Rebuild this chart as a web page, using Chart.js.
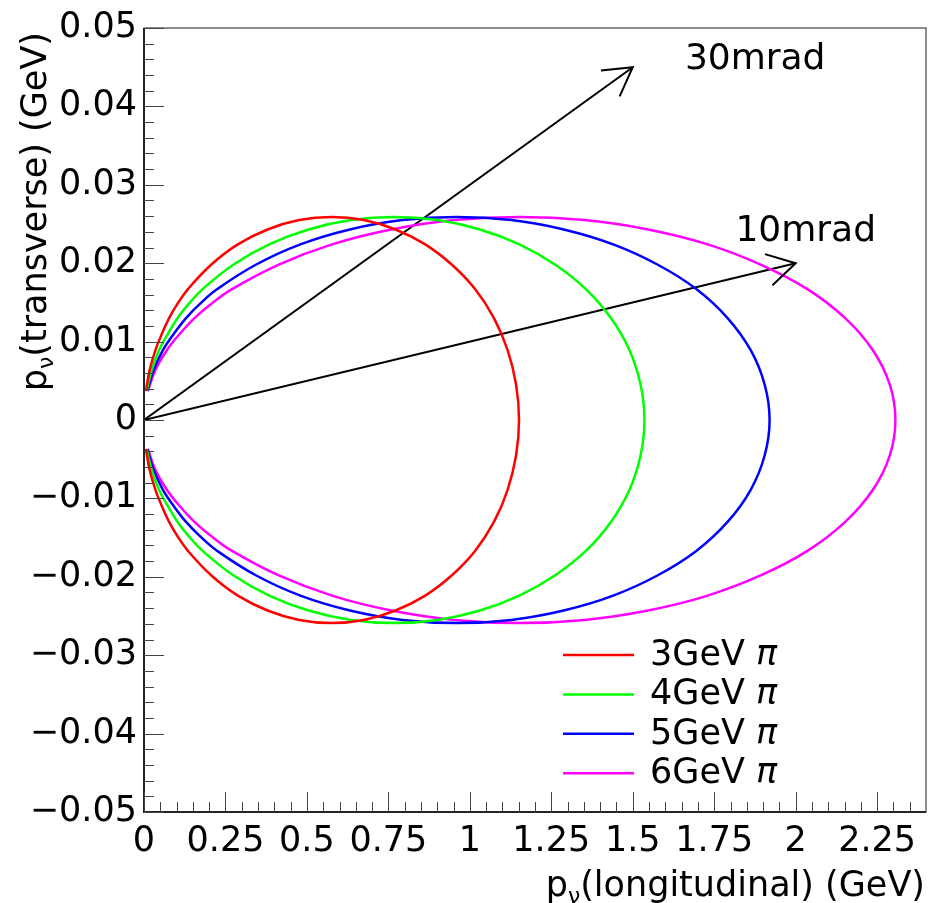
<!DOCTYPE html>
<html lang="en">
<head>
<meta charset="UTF-8" />
<title>Neutrino momentum from pion decay</title>
<script src="https://cdn.jsdelivr.net/npm/chart.js"></script>
<style>
	html, body { margin: 0; padding: 0; background: #fff; }
	canvas { display: block; }
</style>
</head>
<body>
<canvas id="ellipseChart" width="928" height="903"></canvas>
<script>
// axis tick labels
const xTicks = [0, 0.25, 0.5, 0.75, 1, 1.25, 1.5, 1.75, 2, 2.25];
const yTicks = [-0.05, -0.04, -0.03, -0.02, -0.01, 0, 0.01, 0.02, 0.03, 0.04, 0.05];

// series (one loop per pion energy)
const seriesNames = ["3GeV", "4GeV", "5GeV", "6GeV"];
const seriesColors = ["#ff0000", "#00ff00", "#0000ff", "#ff00ff"];

// transverse momentum along each loop (GeV)
const pT = [0.0037, 0.0063, 0.0089, 0.0109, 0.0130, 0.0149, 0.0167, 0.0198, 0.0224, 0.0243, 0.0255,
	0.0259, 0.0255, 0.0243, 0.0224, 0.0198, 0.0167, 0.0130, 0.0089, 0.0045, 0,
	-0.0045, -0.0089, -0.0130, -0.0167, -0.0198, -0.0224, -0.0243, -0.0255, -0.0259, -0.0255,
	-0.0243, -0.0224, -0.0198, -0.0167, -0.0149, -0.0130, -0.0109, -0.0089, -0.0063, -0.0037];

// longitudinal momentum (GeV)
const pL3 = [0.006, 0.017, 0.035, 0.054, 0.077, 0.104, 0.135, 0.206, 0.288, 0.379, 0.476,
	0.576, 0.675, 0.772, 0.863, 0.945, 1.016, 1.074, 1.116, 1.142, 1.151,
	1.142, 1.116, 1.074, 1.016, 0.945, 0.863, 0.772, 0.675, 0.576, 0.476,
	0.379, 0.288, 0.206, 0.135, 0.104, 0.077, 0.054, 0.035, 0.017, 0.006];
const pL4 = [0.008, 0.023, 0.046, 0.072, 0.103, 0.139, 0.180, 0.274, 0.384, 0.505, 0.635,
	0.768, 0.901, 1.031, 1.152, 1.262, 1.356, 1.433, 1.490, 1.524, 1.536,
	1.524, 1.490, 1.433, 1.356, 1.262, 1.152, 1.031, 0.901, 0.768, 0.635,
	0.505, 0.384, 0.274, 0.180, 0.139, 0.103, 0.072, 0.046, 0.023, 0.008];
const pL5 = [0.010, 0.029, 0.058, 0.090, 0.129, 0.174, 0.225, 0.343, 0.480, 0.632, 0.793,
	0.960, 1.127, 1.288, 1.440, 1.577, 1.695, 1.791, 1.862, 1.905, 1.920,
	1.905, 1.862, 1.791, 1.695, 1.577, 1.440, 1.288, 1.127, 0.960, 0.793,
	0.632, 0.480, 0.343, 0.225, 0.174, 0.129, 0.090, 0.058, 0.029, 0.010];
const pL6 = [0.012, 0.034, 0.070, 0.108, 0.155, 0.209, 0.270, 0.412, 0.577, 0.759, 0.953,
	1.153, 1.353, 1.547, 1.730, 1.894, 2.036, 2.152, 2.237, 2.289, 2.306,
	2.289, 2.237, 2.152, 2.036, 1.894, 1.730, 1.547, 1.353, 1.153, 0.953,
	0.759, 0.577, 0.412, 0.270, 0.209, 0.155, 0.108, 0.070, 0.034, 0.012];

// angle arrows from the origin
const arrowNames = ["30mrad", "10mrad"];
const arrowTipX = [1.5, 2.0];
const arrowTipY = [0.045, 0.02];

const FONT = "'DejaVu Sans', 'Liberation Sans', sans-serif";
const longitudinal = [pL3, pL4, pL5, pL6];

const datasets = longitudinal.map((pL, i) => ({
	label: seriesNames[i],
	data: pL.map((x, k) => ({ x: x, y: pT[k] })),
	showLine: true,
	borderColor: seriesColors[i],
	borderWidth: 2.5,
	pointRadius: 0,
	tension: 0.4,
	fill: false,
}));
arrowNames.forEach((name, i) => {
	datasets.push({
		label: name,
		data: [{ x: 0, y: 0 }, { x: arrowTipX[i], y: arrowTipY[i] }],
		showLine: true,
		borderColor: "#000",
		borderWidth: 2,
		pointRadius: 0,
		tension: 0,
	});
});

// draws text with a subscript nu, ending at xEnd
function drawTitle(ctx, parts, xEnd, base) {
	let total = 0;
	parts.forEach((p) => {
		ctx.font = p.size + "px " + FONT;
		total += ctx.measureText(p.t).width;
	});
	let x = xEnd - total;
	parts.forEach((p) => {
		ctx.font = p.size + "px " + FONT;
		ctx.fillText(p.t, x, base + (p.dy || 0));
		x += ctx.measureText(p.t).width;
	});
}

const rootStyle = {
	id: "rootStyle",
	afterDatasetsDraw(chart) {
		const ctx = chart.ctx;
		const a = chart.chartArea;
		const xs = chart.scales.x;
		const ys = chart.scales.y;
		ctx.save();

		// arrow heads
		ctx.strokeStyle = "#000";
		ctx.lineWidth = 2;
		arrowNames.forEach((name, i) => {
			const tx = xs.getPixelForValue(arrowTipX[i]);
			const ty = ys.getPixelForValue(arrowTipY[i]);
			const ang = Math.atan2(ty - ys.getPixelForValue(0), tx - xs.getPixelForValue(0));
			const len = 32, spread = Math.PI / 6;
			ctx.beginPath();
			ctx.moveTo(tx - len * Math.cos(ang - spread), ty - len * Math.sin(ang - spread));
			ctx.lineTo(tx, ty);
			ctx.lineTo(tx - len * Math.cos(ang + spread), ty - len * Math.sin(ang + spread));
			ctx.stroke();
		});

		// arrow labels
		ctx.fillStyle = "#000";
		ctx.font = "36px " + FONT;
		ctx.textAlign = "left";
		ctx.textBaseline = "alphabetic";
		ctx.fillText(arrowNames[0], xs.getPixelForValue(1.66), ys.getPixelForValue(0.0448));
		ctx.fillText(arrowNames[1], xs.getPixelForValue(1.815), ys.getPixelForValue(0.0228));

		// frame
		ctx.strokeStyle = "#444";
		ctx.lineWidth = 1.2;
		ctx.strokeRect(a.left, a.top, a.right - a.left, a.bottom - a.top);
		ctx.strokeStyle = "#222";
		ctx.lineWidth = 2;
		ctx.beginPath();
		ctx.moveTo(a.left, a.top);
		ctx.lineTo(a.left, a.bottom);
		ctx.lineTo(a.right, a.bottom);
		ctx.stroke();

		// ticks inside the frame
		ctx.lineWidth = 1;
		ctx.strokeStyle = "#444";
		ctx.beginPath();
		for (let k = 0; k <= 48; k++) {
			const v = k * 0.05;
			const px = Math.round(xs.getPixelForValue(v)) + 0.5;
			if (px > a.right - 1) continue;
			const major = k % 5 === 0;
			ctx.moveTo(px, a.bottom);
			ctx.lineTo(px, a.bottom - (major ? 20 : 10));
		}
		for (let k = -25; k <= 25; k++) {
			const v = k * 0.002;
			const py = Math.round(ys.getPixelForValue(v)) + 0.5;
			const major = k % 5 === 0;
			ctx.moveTo(a.left, py);
			ctx.lineTo(a.left + (major ? 20 : 10), py);
		}
		ctx.stroke();

		// legend
		ctx.lineWidth = 2.5;
		ctx.textBaseline = "middle";
		seriesNames.forEach((name, i) => {
			const y = 655 + i * 39.4;
			ctx.strokeStyle = seriesColors[i];
			ctx.beginPath();
			ctx.moveTo(563, y);
			ctx.lineTo(634, y);
			ctx.stroke();
			ctx.fillStyle = "#000";
			ctx.font = "35px " + FONT;
			ctx.fillText(name + " ", 650, y + 1);
			const w = ctx.measureText(name + " ").width;
			ctx.font = "italic 35px " + FONT;
			ctx.fillText("\u03c0", 650 + w, y + 1);
		});

		// axis titles
		ctx.fillStyle = "#000";
		ctx.textBaseline = "alphabetic";
		ctx.textAlign = "left";
		drawTitle(ctx, [
			{ t: "p", size: 35 },
			{ t: "\u03bd", size: 22, dy: 7 },
			{ t: "(longitudinal) (GeV)", size: 35 },
		], 925, 896);
		ctx.translate(46, 32);
		ctx.rotate(-Math.PI / 2);
		drawTitle(ctx, [
			{ t: "p", size: 35 },
			{ t: "\u03bd", size: 22, dy: 7 },
			{ t: "(transverse) (GeV)", size: 35 },
		], 0, 0);
		ctx.restore();
	},
};

new Chart(document.getElementById("ellipseChart").getContext("2d"), {
	type: "scatter",
	data: { datasets: datasets },
	options: {
		responsive: false,
		animation: false,
		layout: { padding: { top: 28, right: 2, left: 0, bottom: 0 } },
		plugins: {
			legend: { display: false },
			tooltip: { enabled: false },
		},
		scales: {
			x: {
				type: "linear",
				min: 0,
				max: 2.4,
				grid: { display: false, drawTicks: false },
				border: { display: false },
				afterBuildTicks: (scale) => {
					scale.ticks = xTicks.map((v) => ({ value: v }));
				},
				afterFit: (scale) => {
					scale.height = 91;
				},
				ticks: {
					padding: 9,
					maxRotation: 0,
					autoSkip: false,
					color: "#000",
					font: { family: FONT, size: 35 },
					callback: (v) => String(+v.toFixed(2)),
				},
			},
			y: {
				type: "linear",
				min: -0.05,
				max: 0.05,
				grid: { display: false, drawTicks: false },
				border: { display: false },
				afterBuildTicks: (scale) => {
					scale.ticks = yTicks.map((v) => ({ value: v }));
				},
				afterFit: (scale) => {
					scale.width = 144;
				},
				ticks: {
					padding: 7,
					autoSkip: false,
					color: "#000",
					font: { family: FONT, size: 35 },
					callback: (v) => (Math.abs(v) < 1e-9 ? "0" : (v < 0 ? "\u2212" : "") + Math.abs(v).toFixed(2)),
				},
			},
		},
	},
	plugins: [rootStyle],
});
</script>
</body>
</html>
